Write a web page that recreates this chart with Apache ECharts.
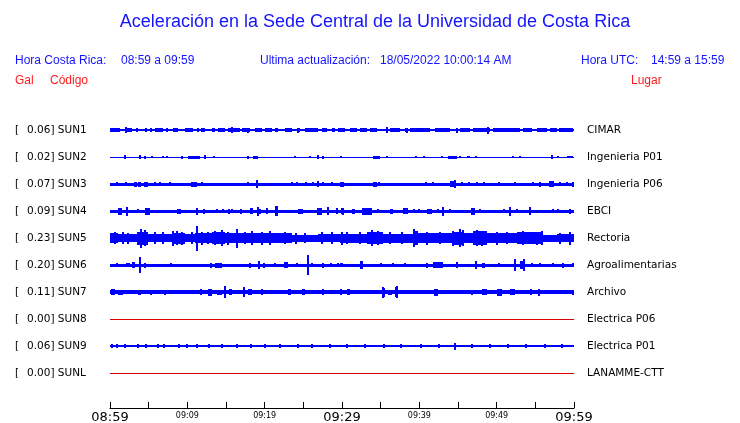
<!DOCTYPE html>
<html>
<head>
<meta charset="utf-8">
<script src="https://cdn.jsdelivr.net/npm/echarts@6/dist/echarts.min.js"></script>
<style>html,body{margin:0;padding:0;background:#fff}#c{width:740px;height:423px}</style>
</head>
<body>
<div id="c"></div>
<script>
// ---------- data ----------
const codes  = ['SUN1','SUN2','SUN3','SUN4','SUN5','SUN6','SUN7','SUN8','SUN9','SUNL'];
const peaks  = ['0.06','0.02','0.07','0.09','0.23','0.20','0.11','0.00','0.06','0.00'];
const places = ['CIMAR','Ingenieria P01','Ingenieria P06','EBCI','Rectoria','Agroalimentarias','Archivo','Electrica P06','Electrica P01','LANAMME-CTT'];
const tickMinutes = [0,10,20,30,40,50,60];
const tickLabels  = ['08:59','09:09','09:19','09:29','09:39','09:49','09:59'];
const titleText = 'Aceleración en la Sede Central de la Universidad de Costa Rica';
const localTime = '08:59 a 09:59';
const updated   = '18/05/2022 10:00:14 AM';
const utcTime   = '14:59 a 15:59';

// envelope blocks per station: [startMinute, endMinute, halfAmplitude(Gal)]
const sun1 = [[0,60,0.014],
 [0,1.29,0.032],[1.94,2.8,0.032],[3.45,3.66,0.032],[4.52,4.74,0.032],[5.17,5.39,0.032],[5.82,6.9,0.032],[7.33,7.54,0.032],[8.19,8.84,0.032],[9.7,10.77,0.032],[11.21,11.42,0.032],[11.85,12.28,0.032],[13.15,13.58,0.032],[14.01,14.87,0.032],[15.3,16.81,0.032],[17.11,18.14,0.032],[18.75,19.61,0.032],[20.04,20.9,0.032],[21.33,21.77,0.032],[22.63,23.49,0.032],[24.13,24.57,0.032],[25.21,26.94,0.032],[27.37,28.01,0.032],[28.66,29.09,0.032],[29.52,30.38,0.032],[31.03,31.9,0.032],[32.33,33.19,0.032],[33.62,34.48,0.032],[36.21,37.5,0.032],[38.14,38.58,0.032],[38.79,41.38,0.032],[42.02,43.96,0.032],[45.26,46.55,0.032],[46.98,48.7,0.032],[48.7,49.14,0.045],[49.57,53.01,0.032],[53.44,54.52,0.032],[55.17,56.46,0.032],[56.89,57.76,0.032],[58.19,59.91,0.032],
 [2.02,2.02,0.066],[11.9,11.9,0.04],[15.73,15.73,0.055],[17.8,17.8,0.05],[24.35,24.35,0.05],[29.7,29.7,0.045],[35.77,35.77,0.066],[38.36,38.36,0.05],[44.83,44.83,0.05],[48.92,48.92,0.07],[58.2,58.2,0.045]];
const sun2 = [[0,60,0.01],
 [1.85,2.11,0.04],[3.79,4.01,0.04],[4.44,4.7,0.03],[5.39,5.39,0.02],[6.9,6.9,0.02],[7.33,7.33,0.02],[9.18,9.35,0.03],[10.13,11.64,0.03],[12.2,12.45,0.04],[13.49,13.49,0.02],[17.8,17.8,0.03],[18.53,19.09,0.03],[23.92,23.92,0.02],[25.86,25.86,0.02],[26.72,27.02,0.04],[27.58,27.58,0.03],[29.87,29.87,0.02],
 [34.05,34.91,0.03],[35.77,35.77,0.02],[39.57,39.57,0.02],[40.6,40.6,0.025],[42.89,42.89,0.025],[43.75,44.83,0.03],[45.26,45.26,0.025],[46.12,46.55,0.025],[47.32,47.32,0.02],[52.07,52.07,0.025],[53.01,53.01,0.02],[57.11,57.32,0.035],[57.97,57.97,0.025],[59.05,59.91,0.025]];
const sun3 = [[0,60,0.03],
 [0.86,0.86,0.04],[2.02,2.02,0.04],[3.15,3.45,0.05],[3.66,4.01,0.05],[4.44,4.96,0.05],[5.82,5.82,0.04],[6.46,6.46,0.04],[7.76,7.76,0.04],[10.47,11.21,0.05],[11.85,11.85,0.045],[17.8,17.8,0.04],[18.96,18.96,0.08],[23.58,23.58,0.04],[24.13,24.13,0.04],[25.3,25.3,0.035],[26.29,26.29,0.04],[26.85,26.85,0.06],[27.58,27.58,0.04],[28.66,28.66,0.035],[30.17,30.17,0.05],
 [29.74,30.17,0.05],[34.05,34.48,0.05],[34.83,34.83,0.04],[40.73,41.03,0.045],[41.81,41.81,0.04],[43.96,44.61,0.06],[44.61,44.61,0.08],[45.47,45.47,0.04],[46.46,46.46,0.04],[47.41,47.41,0.04],[48.36,48.36,0.04],[50.34,50.34,0.04],[52.37,52.37,0.04],[54.65,54.65,0.04],[55.6,55.6,0.05],[56.81,57.41,0.06],[58.19,58.19,0.045],[59.05,59.05,0.04],[59.91,59.91,0.05]];
const sun4 = [[0,60,0.03],
 [1.08,1.51,0.07],[2.15,2.15,0.09],[3.58,3.58,0.04],[4.52,5.17,0.07],[8.62,9.18,0.05],[11.21,11.21,0.07],[12.2,12.2,0.05],[13.79,13.79,0.04],[14.65,14.65,0.04],[15.39,15.39,0.05],[15.82,15.82,0.04],[16.81,17.11,0.05],[18.1,18.53,0.06],[19.09,19.09,0.09],[19.39,19.39,0.05],[20.26,20.26,0.06],[21.33,21.76,0.1],[24.35,24.99,0.05],[26.72,27.37,0.07],[28.14,28.14,0.08],[29.31,29.31,0.06],[30.04,30.04,0.06],
 [29.96,30.17,0.07],[31.25,31.68,0.05],[32.54,33.83,0.07],[34.7,34.7,0.04],[36.21,36.55,0.05],[37.84,38.58,0.06],[39.31,39.31,0.04],[40.0,40.0,0.04],[40.95,41.59,0.05],[42.45,42.45,0.04],[43.1,43.1,0.09],[43.96,43.96,0.04],[46.68,47.2,0.07],[47.84,47.84,0.04],[50.99,50.99,0.04],[51.72,51.72,0.09],[52.58,52.58,0.04],[54.31,54.31,0.08],[57.32,57.32,0.04],[57.97,57.97,0.04],[59.48,59.48,0.05]];
const sun5 = [
 [0,1.08,0.095],[1.08,3.45,0.075],[3.45,4.96,0.13],[4.96,7.97,0.085],[7.97,9.7,0.11],[9.7,10.99,0.085],[10.99,13.15,0.1],[13.15,14.87,0.115],[14.87,17.45,0.1],[17.45,21.76,0.1],[21.76,23.49,0.095],[23.49,26.94,0.07],[26.94,29.74,0.085],
 [29.74,33.19,0.09],[33.19,35.34,0.12],[35.34,39.22,0.09],[39.22,39.87,0.14],[39.87,44.18,0.1],[44.18,45.47,0.13],[45.47,47.0,0.1],[47.0,48.7,0.14],[48.7,52.58,0.1],[52.58,56.03,0.115],[56.03,57.76,0.07],[57.76,60,0.085],
 [0.65,0.65,0.12],[1.72,1.72,0.12],[2.37,2.37,0.11],[4.01,4.01,0.19],[4.52,4.52,0.16],[5.82,5.82,0.12],[6.9,6.9,0.12],[8.19,8.19,0.15],[8.62,8.62,0.14],[9.27,9.27,0.13],[10.65,10.65,0.12],[11.29,11.29,0.25],[11.85,11.85,0.13],[12.71,12.71,0.12],[13.58,13.58,0.14],[14.52,14.52,0.16],[15.3,15.3,0.13],[16.46,16.46,0.19],[17.45,17.45,0.12],[18.32,18.32,0.14],[19.61,19.61,0.13],[20.69,20.69,0.14],[22.63,22.63,0.12],[24.0,24.0,0.11],[25.21,25.21,0.1],[27.37,27.37,0.12],[28.66,28.66,0.12],[30.04,30.04,0.13],
 [30.6,30.6,0.12],[32.33,32.33,0.12],[33.83,33.83,0.16],[34.7,34.7,0.14],[36.21,36.21,0.12],[37.71,37.71,0.12],[39.31,39.31,0.18],[40.95,40.95,0.13],[42.67,42.67,0.12],[44.39,44.39,0.15],[45.26,45.26,0.18],[45.6,45.6,0.16],[47.41,47.41,0.16],[48.06,48.06,0.15],[50.0,50.0,0.13],[51.29,51.29,0.12],[53.45,53.45,0.14],[55.17,55.17,0.13],[55.82,55.82,0.14],[58.19,58.19,0.11],[59.48,59.48,0.13]];
const sun6 = [[0,60,0.03],
 [0.86,0.86,0.04],[2.02,2.59,0.04],[2.8,3.23,0.06],[3.88,3.88,0.155],[4.52,4.52,0.05],[7.89,7.89,0.04],[13.06,13.06,0.05],[13.58,14.44,0.05],[18.1,18.1,0.05],[19.26,19.26,0.08],[19.95,19.95,0.05],[21.33,21.33,0.04],[22.54,23.06,0.06],[24.13,24.13,0.04],[25.64,25.64,0.2],[26.08,26.08,0.04],[27.58,27.58,0.05],[28.57,28.57,0.04],[29.52,29.52,0.04],
 [29.74,30.17,0.04],[32.33,32.76,0.08],[35.0,35.0,0.04],[36.64,36.64,0.04],[38.14,38.14,0.04],[41.03,41.03,0.05],[41.81,43.1,0.06],[44.83,44.83,0.06],[47.2,47.41,0.08],[48.06,48.49,0.05],[50.34,50.34,0.04],[52.37,52.37,0.12],[53.01,53.7,0.08],[53.57,53.57,0.12],[54.52,54.52,0.04],[55.6,55.6,0.04],[57.32,57.32,0.04],[58.53,58.53,0.05],[59.91,59.91,0.04]];
const sun7 = [[0,60,0.038],
 [0.13,0.65,0.06],[1.08,1.72,0.05],[3.02,3.32,0.04],[3.66,4.01,0.05],[5.17,5.39,0.05],[7.11,7.11,0.05],[11.08,11.08,0.04],[11.77,11.77,0.06],[12.71,13.15,0.07],[13.79,14.44,0.05],[14.91,14.91,0.12],[15.39,15.73,0.06],[17.28,17.28,0.1],[17.89,18.32,0.06],[19.61,19.61,0.06],[21.33,21.33,0.045],[21.98,21.98,0.045],[22.97,23.4,0.06],[24.78,25.21,0.06],[27.37,27.71,0.06],[29.74,30.04,0.06],
 [30.6,31.03,0.06],[33.19,33.19,0.045],[33.96,33.96,0.045],[35.13,35.56,0.09],[35.26,35.26,0.11],[35.99,36.42,0.05],[36.85,37.28,0.1],[37.07,37.07,0.12],[38.79,38.79,0.045],[41.89,42.45,0.07],[43.96,43.96,0.045],[45.04,45.04,0.045],[46.76,46.98,0.05],[48.06,48.7,0.06],[49.35,49.35,0.045],[50.0,50.64,0.07],[51.72,52.37,0.06],[53.36,53.36,0.045],[54.31,54.52,0.06],[55.51,55.51,0.07],[57.32,57.32,0.045],[57.97,57.97,0.045],[59.91,59.91,0.05]];
const sun8 = [[0,60,0]];
const sun9 = [[0,60,0.02],
 [0.3,0.3,0.035],[0.9,0.9,0.035],[1.9,1.9,0.035],[3.6,3.6,0.035],[4.6,4.6,0.035],[6.2,6.2,0.035],[7.0,7.0,0.035],[8.9,8.9,0.035],[9.9,9.9,0.035],[11.3,11.3,0.035],[12.8,12.8,0.035],[14.5,14.5,0.035],[16.4,16.4,0.035],[18.2,18.2,0.035],[20.1,20.1,0.035],[22.0,22.0,0.035],[24.3,24.3,0.035],[26.1,26.1,0.035],[28.5,28.5,0.035],[30.7,30.7,0.035],[33.0,33.0,0.035],[35.4,35.4,0.035],[37.6,37.6,0.035],[40.2,40.2,0.035],[42.5,42.5,0.035],[44.6,44.6,0.07],[46.8,46.8,0.035],[49.1,49.1,0.035],[51.5,51.5,0.035],[53.8,53.8,0.035],[56.2,56.2,0.035],[58.4,58.4,0.035]];
const sunl = [[0,60,0]];
const traces = [sun1,sun2,sun3,sun4,sun5,sun6,sun7,sun8,sun9,sunl];

// ---------- style ----------
const ROW_GAP = 0.54;            // Gal between trace baselines
const traceColors = ['#0000ff','#0000ff','#0000ff','#0000ff','#0000ff','#0000ff','#0000ff','#dd0000','#0000ff','#dd0000'];
const BLUE = '#1414ff', RED = '#ff1a1a';

const items = [];
traces.forEach((tr, r) => tr.forEach(b => items.push([b[0], b[1], b[2], r])));

const chart = echarts.init(document.getElementById('c'), null, {renderer: 'canvas'});
const option = {
  animation: false,
  backgroundColor: '#fff',
  grid: {left: 110, right: 166, top: 115, bottom: 15, containLabel: false, outerBoundsMode: 'none'},
  xAxis: {
    type: 'value', min: 0, max: 60, interval: 5,
    splitLine: {show: false},
    axisLine: {show: true, onZero: false, lineStyle: {color: '#000', width: 1}},
    axisTick: {show: true, inside: true, length: 6, lineStyle: {color: '#000'}},
    axisLabel: {
      show: true, margin: 3, showMinLabel: true, showMaxLabel: true, hideOverlap: false,
      formatter: v => {
        const i = tickMinutes.indexOf(v);
        if (i < 0) return '';
        return (v % 30 === 0) ? '{b|' + tickLabels[i] + '}' : '{s|' + tickLabels[i] + '}';
      },
      rich: {
        b: {fontFamily: 'DejaVu Sans', fontSize: 13, color: '#000', lineHeight: 14},
        s: {fontFamily: 'DejaVu Sans', fontSize: 8, color: '#000', lineHeight: 10}
      }
    }
  },
  yAxis: {type: 'value', min: -(408 - 130) / 50, max: 0.3, show: false},
  series: [{
    type: 'custom',
    data: items,
    encode: {x: [0, 1], y: 2},
    clip: false,
    renderItem: (params, api) => {
      const t0 = api.value(0), t1 = api.value(1), a = api.value(2), r = api.value(3);
      const c = -r * ROW_GAP;
      const p0 = api.coord([t0, c + a]);
      const p1 = api.coord([t1, c - a]);
      let x0 = Math.round(p0[0]), x1 = Math.round(p1[0]);
      if (x1 - x0 < 2) { const m = (p0[0] + p1[0]) / 2; x0 = Math.round(m - 1); x1 = x0 + 2; }
      let y0 = Math.round(p0[1]), y1 = Math.round(p1[1]);
      if (y1 - y0 < 1) { y0 = Math.round((p0[1] + p1[1]) / 2 - 0.5); y1 = y0 + 1; }
      return {type: 'rect', shape: {x: x0, y: y0, width: x1 - x0, height: y1 - y0},
              style: {fill: traceColors[r]}};
    }
  }]
};
chart.setOption(option);

// ---------- texts ----------
const g = [];
const hdr = (txt, x, y, color, size, align) => g.push({type: 'text', x: x, y: y,
  style: {text: txt, fill: color, font: size + 'px "Liberation Sans", Arial, sans-serif',
          textAlign: align || 'left', textVerticalAlign: 'middle'}});
hdr(titleText, 375, 22, BLUE, 18, 'center');
hdr('Hora Costa Rica:', 15, 61, BLUE, 12);
hdr(localTime, 121, 61, BLUE, 12);
hdr('Ultima actualización:', 260, 61, BLUE, 12);
hdr(updated, 380, 61, BLUE, 12);
hdr('Hora UTC:', 581, 61, BLUE, 12);
hdr(utcTime, 651, 61, BLUE, 12);
hdr('Gal', 15, 81, RED, 12);
hdr('Código', 50, 81, RED, 12);
hdr('Lugar', 631, 81, RED, 12);

codes.forEach((code, r) => {
  const y = chart.convertToPixel({gridIndex: 0}, [0, -r * ROW_GAP])[1];
  const lab = (txt, x) => g.push({type: 'text', x: x, y: y,
    style: {text: txt, fill: '#000', font: '10.5px "DejaVu Sans", sans-serif', textAlign: 'left', textVerticalAlign: 'middle'}});
  lab('[', 15);
  lab(peaks[r] + '] ' + code, 27);
  lab(places[r], 587);
});
chart.setOption({graphic: g});
</script>
</body>
</html>
